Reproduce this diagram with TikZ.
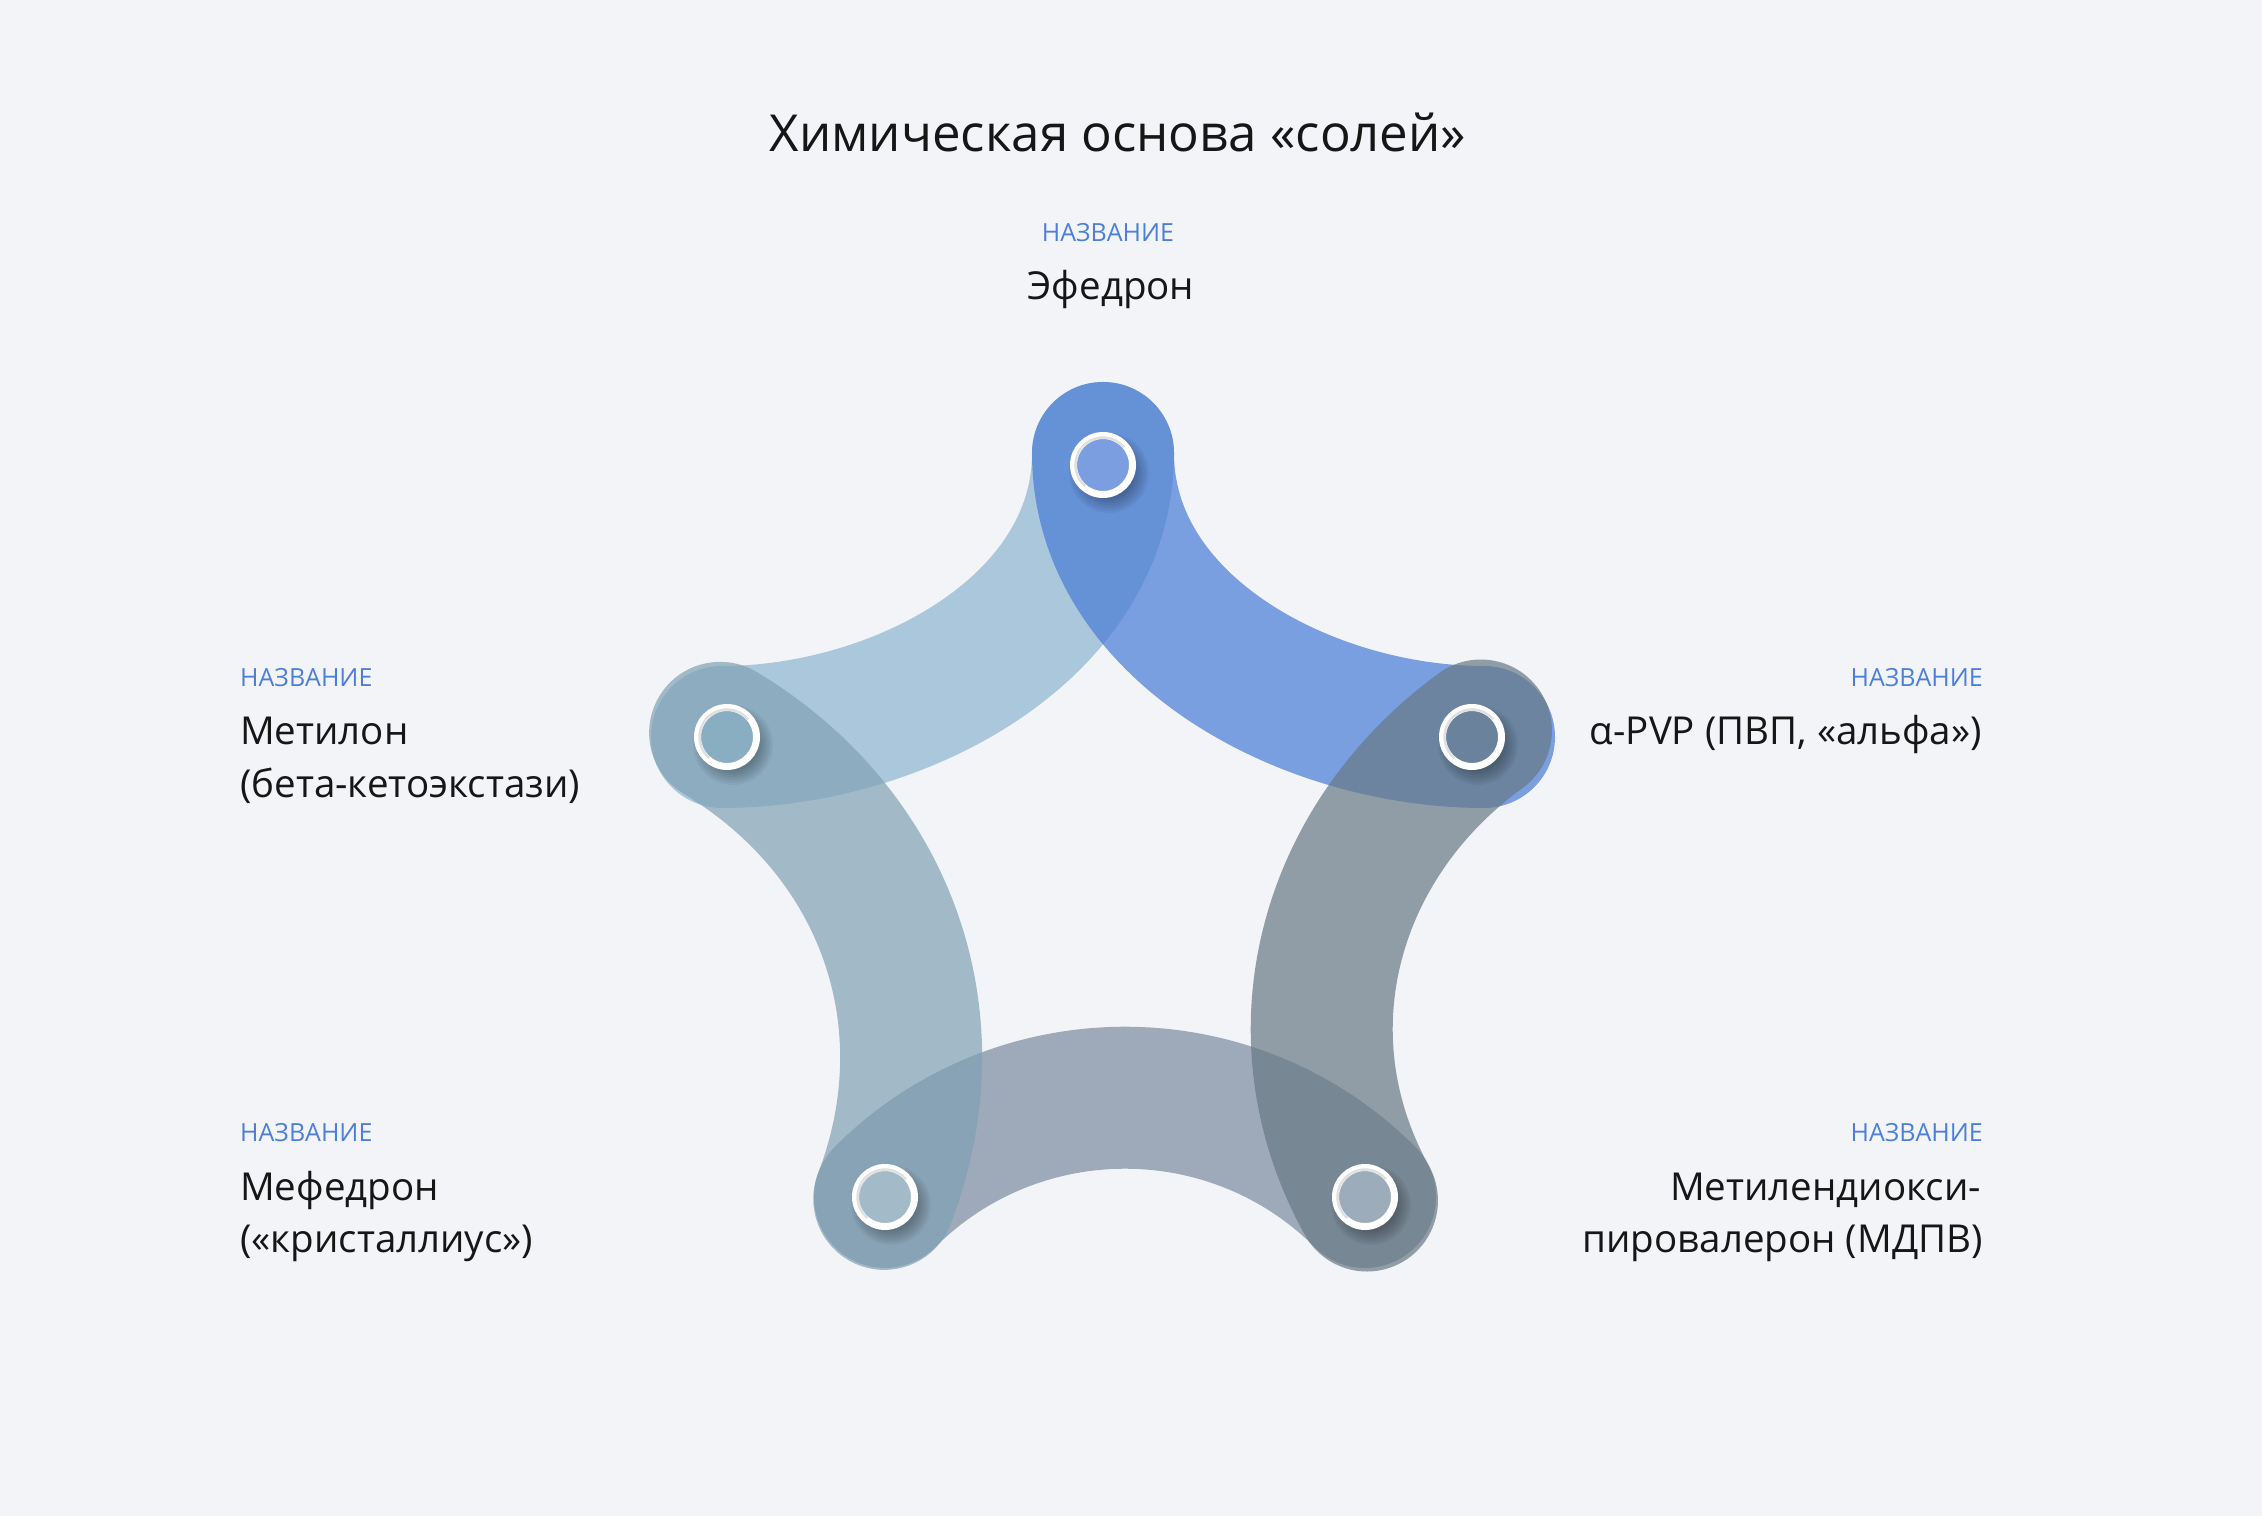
\documentclass[tikz,border=0pt]{standalone}
\usepackage{fontspec}
\setmainfont{Open Sans}
\definecolor{paper}{HTML}{F3F4F8}
\definecolor{capblue}{HTML}{4C7FDC}
\definecolor{ink}{HTML}{161616}
% band colours (drawn at 70% opacity)
\definecolor{lightblue}{HTML}{8CB4CF}
\definecolor{royal}{HTML}{487BD6}
\definecolor{slate}{HTML}{677984}
\definecolor{steel}{HTML}{7A8CA1}
\definecolor{teal}{HTML}{81A1B5}
% fills inside the rings
\definecolor{dotT}{HTML}{7A9EE0}
\definecolor{dotL}{HTML}{89ADC1}
\definecolor{dotR}{HTML}{6A829C}
\definecolor{dotBL}{HTML}{A3BAC8}
\definecolor{dotBR}{HTML}{9DACBB}
\pgfdeclarelayer{background}
\pgfsetlayers{background,main}
\begin{document}
\begin{tikzpicture}[x=1pt,y=1pt,
        band/.style={draw=#1,draw opacity=0.7,line width=142pt,line cap=round},
        point/.style={circle,draw=white,line width=7pt,minimum size=59pt,inner sep=0pt},
        dropshade/.style={fill=black,fill opacity=0.04},
        headtext/.style={anchor=base,text=ink,font=\fontsize{51}{60}\selectfont},
        captext/.style={text=capblue,inner sep=0pt,font=\fontsize{25}{30}\selectfont},
        nametext/.style={text=ink,inner sep=0pt,font=\fontsize{38.5}{52}\selectfont}]
    \useasboundingbox (0,0) rectangle (2262,1516);
    \begin{pgfonlayer}{background}
        \fill[paper] (0,0) rectangle (2262,1516);
    \end{pgfonlayer}

    % the five points
    \foreach \n/\x/\y/\c in {t/1103/1051/dotT, l/727/779/dotL, r/1472/779/dotR,
                             bl/885/319/dotBL, br/1365/319/dotBR} {
        % soft shadow
        \foreach \k in {0,...,7}
            \fill[dropshade] ({\x+6},{\y-8}) circle[radius={40-2*\k}];
        \node[point,fill=\c] (\n) at (\x,\y) {};
        % inner edge of the ring
        \draw[black!12,line width=2.5pt] (\n.center) ++(40:27.5)
            arc[start angle=40,end angle=230,radius=27.5];
    }

    % bands from point to point (the ends stick out a little past the points)
    \begin{pgfonlayer}{background}
        \foreach \a/\b/\aout/\ain/\ea/\eb/\loose/\c in {
                l/t/0/270/5/12/0.95/lightblue,
                t/r/270/180/12/12/0.95/royal,
                br/bl/135/45/0/0/1/steel,
                r/br/216/119/11/4/1/slate,
                bl/l/69/329/2/8/1/teal}
            \draw[band=\c] ([shift={({\aout+180}:\ea)}]\a.center)
                to[out=\aout,in=\ain,looseness=\loose]
                ([shift={(\ain:-\eb)}]\b.center);
    \end{pgfonlayer}

    \node[headtext] (head) at (1118,1364) {Химическая основа «солей»};

    % captions and names
    \node[captext,anchor=base] (capt) at (1108,1274) {НАЗВАНИЕ};
    \node[nametext,anchor=base] (namet) at (1111,1216) {Эфедрон};

    \node[captext,anchor=base west] (capl) at (240,829) {НАЗВАНИЕ};
    \node[nametext,anchor=base west] (namel) at (240,771) {Метилон};
    \node[nametext,anchor=base west] (namel2) at (240,718) {(бета-кетоэкстази)};

    \node[captext,anchor=base east] (capr) at (1983,829) {НАЗВАНИЕ};
    \node[nametext,anchor=base east] (namer) at (1982,771) {α-PVP (ПВП, «альфа»)};

    \node[captext,anchor=base west] (capbl) at (240,374) {НАЗВАНИЕ};
    \node[nametext,anchor=base west] (namebl) at (240,315) {Мефедрон};
    \node[nametext,anchor=base west] (namebl2) at (240,263) {(«кристаллиус»)};

    \node[captext,anchor=base east] (capbr) at (1983,374) {НАЗВАНИЕ};
    \node[nametext,anchor=base east] (namebr) at (1981,315) {Метилендиокси-};
    \node[nametext,anchor=base east] (namebr2) at (1983,263) {пировалерон (МДПВ)};
\end{tikzpicture}
\end{document}
